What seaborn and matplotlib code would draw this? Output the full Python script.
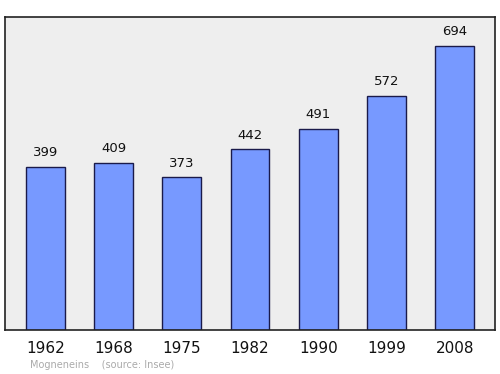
import matplotlib
matplotlib.use("Agg")
import matplotlib.pyplot as plt
import seaborn as sns
import pandas as pd

years = ["1962", "1968", "1975", "1982", "1990", "1999", "2008"]
population = [399, 409, 373, 442, 491, 572, 694]

sns.set_style("white")
plt.rcParams['font.family'] = ['DejaVu Sans']

df = pd.DataFrame({"year": years, "pop": population})

fig = plt.figure(figsize=(5, 3.74), dpi=100)
ax = fig.add_axes([0.01, 0.1176, 0.98, 0.837])
ax.set_facecolor("#eeeeee")

sns.barplot(data=df, x="year", y="pop", ax=ax, color="#7799ff", saturation=1,
            width=0.57, edgecolor="#1a1a4a", linewidth=1)

for i, v in enumerate(population):
    ax.annotate(str(v), (i, v), xytext=(0, 5.5), textcoords="offset points",
                ha="center", va="bottom", fontsize=9.5, color="#111111")

ax.set_xlim(-0.59, 6.59)
ax.set_ylim(0, 765)
ax.set_yticks([])
ax.set_xlabel("")
ax.set_ylabel("")
ax.tick_params(axis="x", length=0, labelsize=11, pad=8, labelcolor="#111111")
for s in ax.spines.values():
    s.set_visible(True)
    s.set_color("#222222")
    s.set_linewidth(1.2)

fig.text(0.06, 0.012, "Mogneneins    (source: Insee)", fontsize=7, color="#aaaaaa",
         ha="left", va="bottom")

fig.savefig("out.png", dpi=100, facecolor="white")
